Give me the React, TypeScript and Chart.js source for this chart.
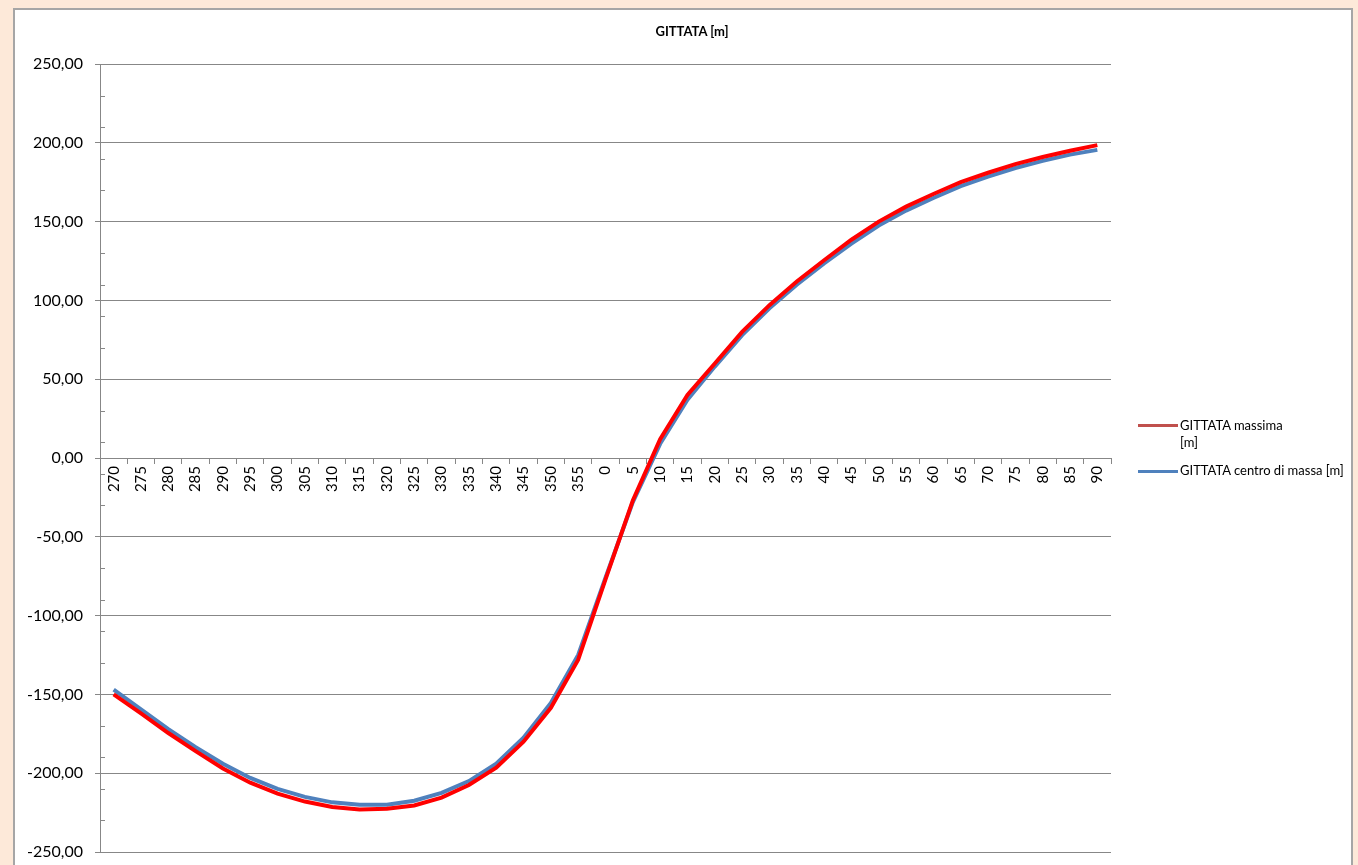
import React, { useEffect, useRef } from "react";
import { Chart, registerables } from "chart.js";

Chart.register(...registerables);

const chartTitle = "GITTATA [m]";

const angles = [
  "270", "275", "280", "285", "290", "295", "300", "305", "310", "315",
  "320", "325", "330", "335", "340", "345", "350", "355", "0", "5",
  "10", "15", "20", "25", "30", "35", "40", "45", "50", "55",
  "60", "65", "70", "75", "80", "85", "90",
];

const gittataMassima = [
  -150, -162, -174.5, -186, -197, -206, -213, -218, -221.5, -223,
  -222.5, -220.5, -215.5, -207.5, -196.5, -180, -158.5, -128, -77, -27,
  12, 40, 60, 80, 97, 112, 125.5, 138.5, 150, 159.5,
  167.5, 175, 181, 186.5, 191, 195, 198.5,
];

const gittataCentro = [
  -147, -159.5, -172, -183.5, -194, -203, -210, -215, -218.5, -220,
  -220, -217.5, -212.5, -205, -194, -177.5, -155.5, -125, -76, -28,
  9, 37, 58, 78, 95, 110, 123.5, 136, 147.5, 157,
  165, 172.5, 178.5, 184, 188.5, 192.5, 195.5,
];

const seriesNames = ["GITTATA massima [m]", "GITTATA centro di massa [m]"];
const lineColors = ["#FF0000", "#4F81BD"];
const legendColors = ["#C0504D", "#4F81BD"];

const Y_MIN = -250;
const Y_MAX = 250;
const Y_STEP = 50;
const Y_MINOR_STEP = 20;

const PEACH = "#FDE9D9";
const GRID = "#878787";
const FONT = "Lato";

export default function App() {
  const ref = useRef<HTMLCanvasElement | null>(null);

  useEffect(() => {
    document.body.style.margin = "0";
    document.body.style.background = PEACH;
    if (!ref.current) return;

    const minorTicks = {
      id: "minorTicks",
      afterDraw(chart: any) {
        const y = chart.scales.y;
        const ctx = chart.ctx;
        const left = chart.chartArea.left;
        ctx.save();
        ctx.strokeStyle = GRID;
        ctx.lineWidth = 1;
        for (let v = Y_MIN + Y_MINOR_STEP; v < Y_MAX; v += Y_MINOR_STEP) {
          if (v % Y_STEP === 0) continue;
          const py = Math.round(y.getPixelForValue(v)) + 0.5;
          ctx.beginPath();
          ctx.moveTo(left, py);
          ctx.lineTo(left + 5, py);
          ctx.stroke();
        }
        ctx.restore();
      },
    };

    const chart = new Chart(ref.current, {
      type: "line",
      data: {
        labels: angles,
        datasets: [
          {
            label: seriesNames[0],
            data: gittataMassima,
            borderColor: lineColors[0],
            backgroundColor: lineColors[0],
            borderWidth: 4,
            pointRadius: 0,
            tension: 0,
          },
          {
            label: seriesNames[1],
            data: gittataCentro,
            borderColor: lineColors[1],
            backgroundColor: lineColors[1],
            borderWidth: 4,
            pointRadius: 0,
            tension: 0,
          },
        ],
      },
      options: {
        animation: false,
        responsive: false,
        maintainAspectRatio: false,
        layout: { padding: { top: 54, right: 240, bottom: 28, left: 0 } },
        plugins: {
          legend: { display: false },
          title: { display: false },
          tooltip: { enabled: false },
        },
        scales: {
          x: {
            type: "category",
            position: { y: 0 } as any,
            offset: true,
            grid: {
              drawOnChartArea: false,
              offset: true,
              tickLength: 5,
              color: GRID,
            },
            border: { display: true, color: GRID },
            ticks: {
              autoSkip: false,
              minRotation: 90,
              maxRotation: 90,
              padding: 3,
              color: "#000",
              font: { family: FONT, size: 15 },
            },
          },
          y: {
            min: Y_MIN,
            max: Y_MAX,
            afterFit: (s: any) => {
              s.width = 85;
            },
            grid: { color: GRID, tickLength: 5 },
            border: { display: true, color: GRID },
            ticks: {
              stepSize: Y_STEP,
              padding: 12,
              color: "#000",
              font: { family: FONT, size: 16 },
              callback: (v: any) => Number(v).toFixed(2).replace(".", ","),
            },
          },
        },
      },
      plugins: [minorTicks],
    });

    return () => chart.destroy();
  }, []);

  const legendText: React.CSSProperties = {
    position: "absolute",
    fontFamily: FONT,
    fontSize: 13,
    lineHeight: "17px",
    color: "#000",
  };

  return (
    <div style={{ position: "fixed", inset: 0, background: PEACH, overflow: "hidden" }}>
      <div
        style={{
          position: "absolute",
          left: 13,
          top: 8,
          width: 1336,
          height: 900,
          border: "2px solid #A6A6A6",
          background: "#fff",
        }}
      >
        <canvas ref={ref} width={1336} height={870} style={{ display: "block", width: 1336, height: 870 }} />
      </div>
      <div
        style={{
          position: "absolute",
          left: 592,
          top: 23,
          width: 200,
          textAlign: "center",
          fontFamily: FONT,
          fontWeight: 700,
          fontSize: 13,
          lineHeight: "17px",
          color: "#000",
        }}
      >
        {chartTitle}
      </div>
      <div style={{ position: "absolute", left: 1138, top: 424, width: 40, height: 3, background: legendColors[0] }} />
      <div style={{ ...legendText, left: 1180, top: 417, width: 115 }}>{seriesNames[0]}</div>
      <div style={{ position: "absolute", left: 1138, top: 470, width: 40, height: 3, background: legendColors[1] }} />
      <div style={{ ...legendText, left: 1180, top: 462, whiteSpace: "nowrap" }}>{seriesNames[1]}</div>
    </div>
  );
}
